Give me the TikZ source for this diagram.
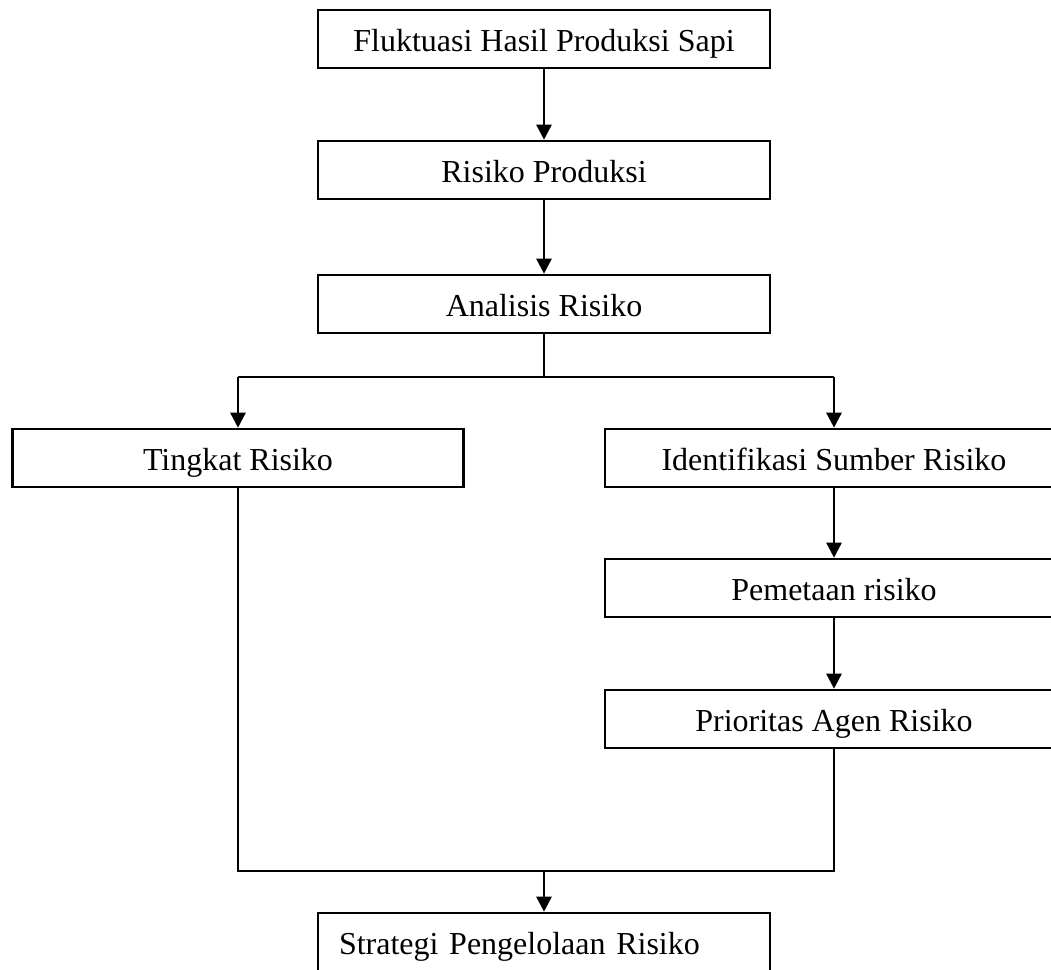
\documentclass[tikz,border=0pt]{standalone}
\usepackage{fontspec}
\setmainfont{Liberation Serif}
\usetikzlibrary{arrows.meta,calc}
\begin{document}
\begin{tikzpicture}[x=1pt,y=-1pt,
  box/.style={draw,line width=2.6pt,minimum height=58pt,inner sep=0pt,
    text height=30.5pt,text depth=5pt,font=\fontsize{32}{38}\selectfont},
  wide/.style={minimum width=452pt},
  conn/.style={line width=2.6pt},
  arr/.style={conn,-{Triangle[length=15pt,width=15pt]}}]
\useasboundingbox (0,0) rectangle (1051,969);
\clip (0,0) rectangle (1051,969);
\node[box,wide] (f) at (544,39) {Fluktuasi Hasil Produksi Sapi};
\node[box,wide] (rp) at (544,170) {Risiko Produksi};
\node[box,wide] (ar) at (544,304) {Analisis Risiko};
\node[box,minimum width=451pt] (tk) at (238,458) {Tingkat Risiko};
\node[box,minimum width=458pt] (id) at (834,458) {Identifikasi Sumber Risiko};
\node[box,minimum width=458pt] (pm) at (834,588) {Pemetaan risiko};
\node[box,minimum width=458pt] (pr) at (834,719) {Prioritas Agen Risiko};
\node[box,wide,text width=410pt,align=left,inner xsep=21pt] (st) at (544,942) {Strategi Pengelolaan Risiko};
\draw[arr] (f) -- (rp);
\draw[arr] (rp) -- (ar);
\coordinate (j1) at (ar.south |- 0,377);
\coordinate (j1l) at (tk.north |- j1);
\coordinate (j1r) at (id.north |- j1);
\draw[conn] (ar.south) -- (j1);
\draw[conn] (j1l) -- (j1r);
\draw[arr] (j1l) -- (tk.north);
\draw[arr] (j1r) -- (id.north);
\draw[arr] (id) -- (pm);
\draw[arr] (pm) -- (pr);
\coordinate (j2) at (0,871);
\coordinate (j2l) at (tk.south |- j2);
\coordinate (j2r) at (pr.south |- j2);
\coordinate (j2m) at (st.north |- j2);
\draw[conn] (tk.south) -- (j2l) -- (j2r) -- (pr.south);
\draw[arr] (j2m) -- (st.north);
\end{tikzpicture}
\end{document}
